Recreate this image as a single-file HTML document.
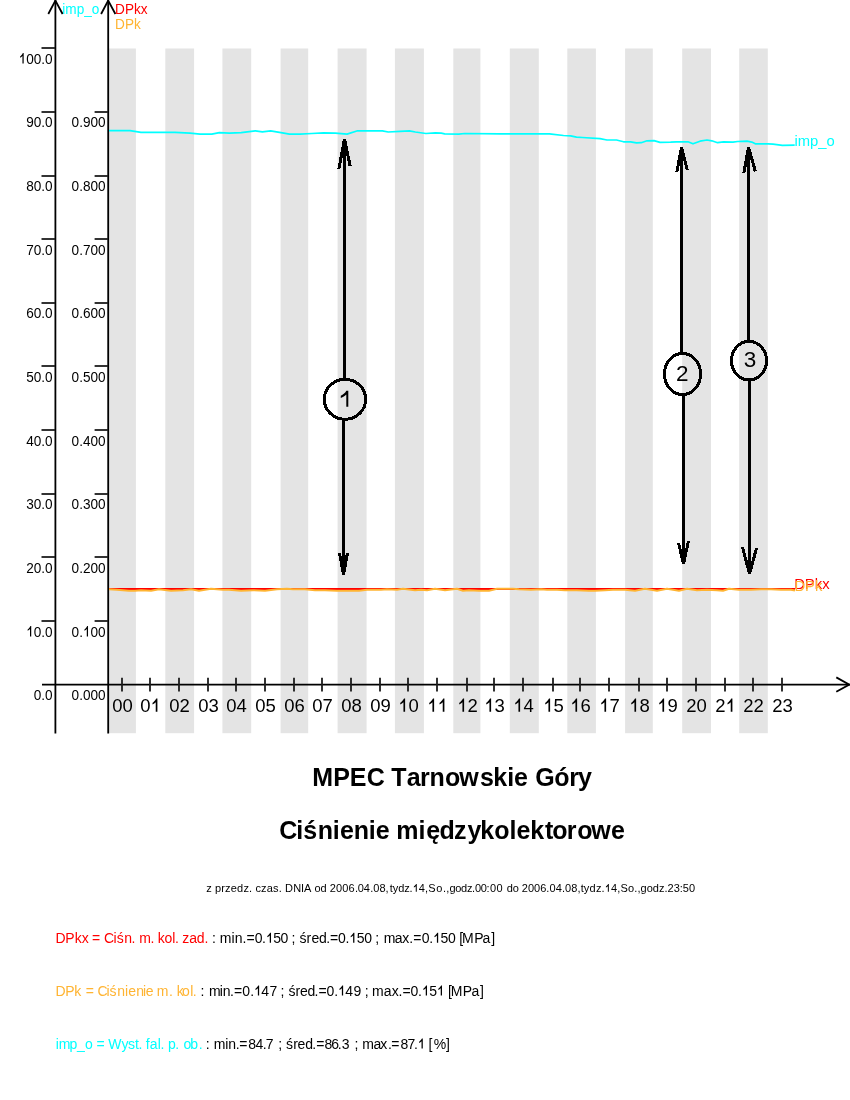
<!DOCTYPE html><html><head><meta charset="utf-8"><style>html,body{margin:0;padding:0;background:#fff;}svg{display:block;will-change:transform;}text{font-family:"Liberation Sans", sans-serif;}</style></head><body>
<svg width="850" height="1100" viewBox="0 0 850 1100">
<rect width="850" height="1100" fill="#fff"/>
<rect x="109" y="48.5" width="26.90" height="684.70" fill="#e4e4e4"/>
<rect x="165.3" y="48.5" width="28.80" height="684.70" fill="#e4e4e4"/>
<rect x="222.4" y="48.5" width="28.80" height="684.70" fill="#e4e4e4"/>
<rect x="280.6" y="48.5" width="27.60" height="684.70" fill="#e4e4e4"/>
<rect x="337.6" y="48.5" width="29.00" height="684.70" fill="#e4e4e4"/>
<rect x="394.9" y="48.5" width="29.00" height="684.70" fill="#e4e4e4"/>
<rect x="453.3" y="48.5" width="27.10" height="684.70" fill="#e4e4e4"/>
<rect x="509.8" y="48.5" width="29.00" height="684.70" fill="#e4e4e4"/>
<rect x="567.3" y="48.5" width="28.60" height="684.70" fill="#e4e4e4"/>
<rect x="625.1" y="48.5" width="27.70" height="684.70" fill="#e4e4e4"/>
<rect x="682.2" y="48.5" width="28.80" height="684.70" fill="#e4e4e4"/>
<rect x="739.2" y="48.5" width="28.60" height="684.70" fill="#e4e4e4"/>
<g stroke="#000" stroke-width="1.8" fill="none">
<line x1="55.4" y1="0" x2="55.4" y2="733.4"/>
<line x1="108.2" y1="0" x2="108.2" y2="733.4"/>
<line x1="42" y1="684.6" x2="850" y2="684.6"/>
<polyline points="48.3,14 55.4,0.6 62.6,14"/>
<polyline points="101.1,14 108.2,0.6 115.4,14"/>
<polyline points="836.3,677.4 849.4,684.6 836.3,691.8"/>
</g>
<g stroke="#1c1c1c" stroke-width="1.8" fill="none">
<line x1="41.5" y1="621" x2="55" y2="621"/>
<line x1="41.5" y1="557" x2="55" y2="557"/>
<line x1="41.5" y1="494" x2="55" y2="494"/>
<line x1="41.5" y1="430" x2="55" y2="430"/>
<line x1="41.5" y1="366" x2="55" y2="366"/>
<line x1="41.5" y1="303" x2="55" y2="303"/>
<line x1="41.5" y1="239" x2="55" y2="239"/>
<line x1="41.5" y1="176" x2="55" y2="176"/>
<line x1="41.5" y1="112" x2="55" y2="112"/>
<line x1="41.5" y1="48" x2="55" y2="48"/>
<line x1="94.6" y1="621" x2="108" y2="621"/>
<line x1="94.6" y1="557" x2="108" y2="557"/>
<line x1="94.6" y1="494" x2="108" y2="494"/>
<line x1="94.6" y1="430" x2="108" y2="430"/>
<line x1="94.6" y1="366" x2="108" y2="366"/>
<line x1="94.6" y1="303" x2="108" y2="303"/>
<line x1="94.6" y1="239" x2="108" y2="239"/>
<line x1="94.6" y1="176" x2="108" y2="176"/>
<line x1="94.6" y1="112" x2="108" y2="112"/>
<line x1="122" y1="677.8" x2="122" y2="691.6"/>
<line x1="150" y1="677.8" x2="150" y2="691.6"/>
<line x1="179" y1="677.8" x2="179" y2="691.6"/>
<line x1="208" y1="677.8" x2="208" y2="691.6"/>
<line x1="236" y1="677.8" x2="236" y2="691.6"/>
<line x1="265" y1="677.8" x2="265" y2="691.6"/>
<line x1="294" y1="677.8" x2="294" y2="691.6"/>
<line x1="322" y1="677.8" x2="322" y2="691.6"/>
<line x1="351" y1="677.8" x2="351" y2="691.6"/>
<line x1="380" y1="677.8" x2="380" y2="691.6"/>
<line x1="408" y1="677.8" x2="408" y2="691.6"/>
<line x1="437" y1="677.8" x2="437" y2="691.6"/>
<line x1="467" y1="677.8" x2="467" y2="691.6"/>
<line x1="494" y1="677.8" x2="494" y2="691.6"/>
<line x1="523" y1="677.8" x2="523" y2="691.6"/>
<line x1="553" y1="677.8" x2="553" y2="691.6"/>
<line x1="580" y1="677.8" x2="580" y2="691.6"/>
<line x1="609" y1="677.8" x2="609" y2="691.6"/>
<line x1="639" y1="677.8" x2="639" y2="691.6"/>
<line x1="667" y1="677.8" x2="667" y2="691.6"/>
<line x1="696" y1="677.8" x2="696" y2="691.6"/>
<line x1="725" y1="677.8" x2="725" y2="691.6"/>
<line x1="753" y1="677.8" x2="753" y2="691.6"/>
<line x1="782" y1="677.8" x2="782" y2="691.6"/>
</g>
<text transform="translate(0,700.20) scale(1,1.08)" x="33.73 41.29 45.07" y="0" font-size="13.6" fill="#000">0.0</text>
<text transform="translate(0,636.54) scale(1,1.08)" x="33.73 41.29 45.07" y="0" font-size="13.6" fill="#000">0.0</text><path transform="translate(26.16,636.54) scale(13.600,-14.688)" d="M0.283,0 L0.373,0 L0.373,0.716 L0.315,0.716 C0.284,0.653 0.231,0.588 0.156,0.521 C0.140,0.507 0.125,0.494 0.109,0.482 L0.109,0.396 C0.176,0.428 0.237,0.470 0.283,0.514 Z" fill="#000"/>
<text transform="translate(0,572.88) scale(1,1.08)" x="26.16 33.73 41.29 45.07" y="0" font-size="13.6" fill="#000">20.0</text>
<text transform="translate(0,509.22) scale(1,1.08)" x="26.16 33.73 41.29 45.07" y="0" font-size="13.6" fill="#000">30.0</text>
<text transform="translate(0,445.56) scale(1,1.08)" x="26.16 33.73 41.29 45.07" y="0" font-size="13.6" fill="#000">40.0</text>
<text transform="translate(0,381.90) scale(1,1.08)" x="26.16 33.73 41.29 45.07" y="0" font-size="13.6" fill="#000">50.0</text>
<text transform="translate(0,318.24) scale(1,1.08)" x="26.16 33.73 41.29 45.07" y="0" font-size="13.6" fill="#000">60.0</text>
<text transform="translate(0,254.58) scale(1,1.08)" x="26.16 33.73 41.29 45.07" y="0" font-size="13.6" fill="#000">70.0</text>
<text transform="translate(0,190.92) scale(1,1.08)" x="26.16 33.73 41.29 45.07" y="0" font-size="13.6" fill="#000">80.0</text>
<text transform="translate(0,127.26) scale(1,1.08)" x="26.16 33.73 41.29 45.07" y="0" font-size="13.6" fill="#000">90.0</text>
<text transform="translate(0,63.60) scale(1,1.08)" x="26.16 33.73 41.29 45.07" y="0" font-size="13.6" fill="#000">00.0</text><path transform="translate(18.60,63.60) scale(13.600,-14.688)" d="M0.283,0 L0.373,0 L0.373,0.716 L0.315,0.716 C0.284,0.653 0.231,0.588 0.156,0.521 C0.140,0.507 0.125,0.494 0.109,0.482 L0.109,0.396 C0.176,0.428 0.237,0.470 0.283,0.514 Z" fill="#000"/>
<text transform="translate(0,700.20) scale(1,1.08)" x="71.60 79.16 82.94 90.50 98.07" y="0" font-size="13.6" fill="#000">0.000</text>
<text transform="translate(0,636.54) scale(1,1.08)" x="71.60 79.16 90.50 98.07" y="0" font-size="13.6" fill="#000">0.00</text><path transform="translate(82.94,636.54) scale(13.600,-14.688)" d="M0.283,0 L0.373,0 L0.373,0.716 L0.315,0.716 C0.284,0.653 0.231,0.588 0.156,0.521 C0.140,0.507 0.125,0.494 0.109,0.482 L0.109,0.396 C0.176,0.428 0.237,0.470 0.283,0.514 Z" fill="#000"/>
<text transform="translate(0,572.88) scale(1,1.08)" x="71.60 79.16 82.94 90.50 98.07" y="0" font-size="13.6" fill="#000">0.200</text>
<text transform="translate(0,509.22) scale(1,1.08)" x="71.60 79.16 82.94 90.50 98.07" y="0" font-size="13.6" fill="#000">0.300</text>
<text transform="translate(0,445.56) scale(1,1.08)" x="71.60 79.16 82.94 90.50 98.07" y="0" font-size="13.6" fill="#000">0.400</text>
<text transform="translate(0,381.90) scale(1,1.08)" x="71.60 79.16 82.94 90.50 98.07" y="0" font-size="13.6" fill="#000">0.500</text>
<text transform="translate(0,318.24) scale(1,1.08)" x="71.60 79.16 82.94 90.50 98.07" y="0" font-size="13.6" fill="#000">0.600</text>
<text transform="translate(0,254.58) scale(1,1.08)" x="71.60 79.16 82.94 90.50 98.07" y="0" font-size="13.6" fill="#000">0.700</text>
<text transform="translate(0,190.92) scale(1,1.08)" x="71.60 79.16 82.94 90.50 98.07" y="0" font-size="13.6" fill="#000">0.800</text>
<text transform="translate(0,127.26) scale(1,1.08)" x="71.60 79.16 82.94 90.50 98.07" y="0" font-size="13.6" fill="#000">0.900</text>
<text x="112.21 122.50" y="711.80" font-size="18.5" fill="#000">00</text>
<text x="140.21" y="711.80" font-size="18.5" fill="#000">0</text><path transform="translate(150.50,711.80) scale(18.500,-18.500)" d="M0.283,0 L0.373,0 L0.373,0.716 L0.315,0.716 C0.284,0.653 0.231,0.588 0.156,0.521 C0.140,0.507 0.125,0.494 0.109,0.482 L0.109,0.396 C0.176,0.428 0.237,0.470 0.283,0.514 Z" fill="#000"/>
<text x="169.21 179.50" y="711.80" font-size="18.5" fill="#000">02</text>
<text x="198.21 208.50" y="711.80" font-size="18.5" fill="#000">03</text>
<text x="226.21 236.50" y="711.80" font-size="18.5" fill="#000">04</text>
<text x="255.21 265.50" y="711.80" font-size="18.5" fill="#000">05</text>
<text x="284.21 294.50" y="711.80" font-size="18.5" fill="#000">06</text>
<text x="312.21 322.50" y="711.80" font-size="18.5" fill="#000">07</text>
<text x="341.21 351.50" y="711.80" font-size="18.5" fill="#000">08</text>
<text x="370.21 380.50" y="711.80" font-size="18.5" fill="#000">09</text>
<text x="408.50" y="711.80" font-size="18.5" fill="#000">0</text><path transform="translate(398.21,711.80) scale(18.500,-18.500)" d="M0.283,0 L0.373,0 L0.373,0.716 L0.315,0.716 C0.284,0.653 0.231,0.588 0.156,0.521 C0.140,0.507 0.125,0.494 0.109,0.482 L0.109,0.396 C0.176,0.428 0.237,0.470 0.283,0.514 Z" fill="#000"/>
<path transform="translate(427.21,711.80) scale(18.500,-18.500)" d="M0.283,0 L0.373,0 L0.373,0.716 L0.315,0.716 C0.284,0.653 0.231,0.588 0.156,0.521 C0.140,0.507 0.125,0.494 0.109,0.482 L0.109,0.396 C0.176,0.428 0.237,0.470 0.283,0.514 Z" fill="#000"/><path transform="translate(437.50,711.80) scale(18.500,-18.500)" d="M0.283,0 L0.373,0 L0.373,0.716 L0.315,0.716 C0.284,0.653 0.231,0.588 0.156,0.521 C0.140,0.507 0.125,0.494 0.109,0.482 L0.109,0.396 C0.176,0.428 0.237,0.470 0.283,0.514 Z" fill="#000"/>
<text x="467.50" y="711.80" font-size="18.5" fill="#000">2</text><path transform="translate(457.21,711.80) scale(18.500,-18.500)" d="M0.283,0 L0.373,0 L0.373,0.716 L0.315,0.716 C0.284,0.653 0.231,0.588 0.156,0.521 C0.140,0.507 0.125,0.494 0.109,0.482 L0.109,0.396 C0.176,0.428 0.237,0.470 0.283,0.514 Z" fill="#000"/>
<text x="494.50" y="711.80" font-size="18.5" fill="#000">3</text><path transform="translate(484.21,711.80) scale(18.500,-18.500)" d="M0.283,0 L0.373,0 L0.373,0.716 L0.315,0.716 C0.284,0.653 0.231,0.588 0.156,0.521 C0.140,0.507 0.125,0.494 0.109,0.482 L0.109,0.396 C0.176,0.428 0.237,0.470 0.283,0.514 Z" fill="#000"/>
<text x="523.50" y="711.80" font-size="18.5" fill="#000">4</text><path transform="translate(513.21,711.80) scale(18.500,-18.500)" d="M0.283,0 L0.373,0 L0.373,0.716 L0.315,0.716 C0.284,0.653 0.231,0.588 0.156,0.521 C0.140,0.507 0.125,0.494 0.109,0.482 L0.109,0.396 C0.176,0.428 0.237,0.470 0.283,0.514 Z" fill="#000"/>
<text x="553.50" y="711.80" font-size="18.5" fill="#000">5</text><path transform="translate(543.21,711.80) scale(18.500,-18.500)" d="M0.283,0 L0.373,0 L0.373,0.716 L0.315,0.716 C0.284,0.653 0.231,0.588 0.156,0.521 C0.140,0.507 0.125,0.494 0.109,0.482 L0.109,0.396 C0.176,0.428 0.237,0.470 0.283,0.514 Z" fill="#000"/>
<text x="580.50" y="711.80" font-size="18.5" fill="#000">6</text><path transform="translate(570.21,711.80) scale(18.500,-18.500)" d="M0.283,0 L0.373,0 L0.373,0.716 L0.315,0.716 C0.284,0.653 0.231,0.588 0.156,0.521 C0.140,0.507 0.125,0.494 0.109,0.482 L0.109,0.396 C0.176,0.428 0.237,0.470 0.283,0.514 Z" fill="#000"/>
<text x="609.50" y="711.80" font-size="18.5" fill="#000">7</text><path transform="translate(599.21,711.80) scale(18.500,-18.500)" d="M0.283,0 L0.373,0 L0.373,0.716 L0.315,0.716 C0.284,0.653 0.231,0.588 0.156,0.521 C0.140,0.507 0.125,0.494 0.109,0.482 L0.109,0.396 C0.176,0.428 0.237,0.470 0.283,0.514 Z" fill="#000"/>
<text x="639.50" y="711.80" font-size="18.5" fill="#000">8</text><path transform="translate(629.21,711.80) scale(18.500,-18.500)" d="M0.283,0 L0.373,0 L0.373,0.716 L0.315,0.716 C0.284,0.653 0.231,0.588 0.156,0.521 C0.140,0.507 0.125,0.494 0.109,0.482 L0.109,0.396 C0.176,0.428 0.237,0.470 0.283,0.514 Z" fill="#000"/>
<text x="667.50" y="711.80" font-size="18.5" fill="#000">9</text><path transform="translate(657.21,711.80) scale(18.500,-18.500)" d="M0.283,0 L0.373,0 L0.373,0.716 L0.315,0.716 C0.284,0.653 0.231,0.588 0.156,0.521 C0.140,0.507 0.125,0.494 0.109,0.482 L0.109,0.396 C0.176,0.428 0.237,0.470 0.283,0.514 Z" fill="#000"/>
<text x="686.21 696.50" y="711.80" font-size="18.5" fill="#000">20</text>
<text x="715.21" y="711.80" font-size="18.5" fill="#000">2</text><path transform="translate(725.50,711.80) scale(18.500,-18.500)" d="M0.283,0 L0.373,0 L0.373,0.716 L0.315,0.716 C0.284,0.653 0.231,0.588 0.156,0.521 C0.140,0.507 0.125,0.494 0.109,0.482 L0.109,0.396 C0.176,0.428 0.237,0.470 0.283,0.514 Z" fill="#000"/>
<text x="743.21 753.50" y="711.80" font-size="18.5" fill="#000">22</text>
<text x="772.21 782.50" y="711.80" font-size="18.5" fill="#000">23</text>
<text transform="translate(62.29,13.6) scale(1,1.08)" x="0" y="0" font-size="13.6" fill="#00ffff">imp_o</text>
<text transform="translate(115.08,13.6) scale(1,1.08)" x="0" y="0" font-size="13.6" fill="#ff0000">DPkx</text>
<text transform="translate(115.08,28.6) scale(1,1.08)" x="0" y="0" font-size="13.6" fill="#ffb432">DPk</text>
<polyline points="109,130.7 130,130.7 141,132.4 175,132.4 190,133.2 200,134.1 211.8,134.1 219.4,132.6 229.4,133.2 241.2,132.6 255.3,130.8 262.4,131.8 270.6,130.8 282.4,132.8 289.4,134.1 300,134.1 311.8,133.5 323.5,132.8 335.3,133.2 347,134.1 357.6,130.8 370.6,130.8 382.4,130.8 388.2,132 400,131.4 409.4,130.8 415.3,132 425.9,133.5 435.3,132.9 441.2,133.2 444.7,133.8 458.8,134.1 464.7,133.5 500,133.8 549.4,133.8 563.5,135.5 570.6,135.9 576.5,137.1 582.4,137.5 600,138.7 607,140 616.5,140 623.5,141.8 630.6,141.8 636.5,142.9 641.2,142.7 647,140.8 654,140.6 660,142.4 670.6,142.1 676.5,141.8 688,141.8 693,143.8 700,141.2 707,140 711.8,140.8 717.6,142.7 723.5,141.8 733,142.1 737.6,141.5 747,141.2 751.8,142.1 755.3,143.8 768.2,143.8 773,144.1 782.4,145.3 794.7,145.2" fill="none" stroke="#00ffff" stroke-width="1.7" stroke-linejoin="round"/>
<text x="794.41" y="145.5" font-size="14.8" fill="#00ffff">imp_o</text>
<line x1="109" y1="589" x2="795" y2="589" stroke="#ff0000" stroke-width="2"/>
<text x="794.19" y="588.8" font-size="14.8" fill="#ff0000">DPkx</text>
<polyline points="109,589.2 117,589.7 129,590.7 135,590.7 141,590.2 151,590.7 159,589.2 171,590.7 183,590.2 191,589.2 199,590.7 211,588.7 217,589.2 223,589.7 229,589.7 241,590.7 253,590.2 265,590.7 277,589.2 287,588.7 293,589.2 305,589.2 315,590.2 325,590.2 337,590.7 347,590.7 359,590.7 367,589.7 373,589.7 381,589.7 387,589.2 397,589.7 403,588.7 415,590.2 421,589.7 427,590.2 435,588.7 445,590.2 457,588.7 463,590.7 469,590.2 479,590.7 489,590.7 497,588.7 507,588.7 513,588.7 519,589.2 531,589.7 541,589.2 547,589.7 557,589.7 565,590.2 577,590.2 589,590.7 595,590.7 605,590.2 613,589.7 625,589.7 635,590.7 645,588.7 657,590.7 667,588.7 679,590.7 687,588.7 697,590.2 707,589.7 717,590.2 723,590.7 729,588.7 739,589.7 751,589.7 761,589.2 771,589.2 781,589.7 791,589.7 795,590.5" fill="none" stroke="#ffb432" stroke-width="2" stroke-linejoin="round"/>
<text x="794.39" y="590.5" font-size="14.8" fill="#ffb432">DPk</text>
<g stroke="#000" stroke-width="3" fill="none" shape-rendering="crispEdges" stroke-linecap="butt"><line x1="344.5" y1="139" x2="344.5" y2="380.3"/><line x1="343.5" y1="418.3" x2="343.5" y2="575"/><line x1="344.5" y1="139" x2="338.8" y2="169.2"/><line x1="344.5" y1="139" x2="350.2" y2="166.2"/><line x1="343.5" y1="575" x2="339.5" y2="553"/><line x1="343.5" y1="575" x2="347.5" y2="553"/><ellipse cx="345" cy="399.3" rx="20.7" ry="20"/></g>
<g stroke="#000" stroke-width="3" fill="none" shape-rendering="crispEdges" stroke-linecap="butt"><line x1="681.5" y1="147.1" x2="681.5" y2="354.45"/><line x1="683.5" y1="393.55" x2="683.5" y2="563.8"/><line x1="681.5" y1="147.1" x2="676.8" y2="172.3"/><line x1="681.5" y1="147.1" x2="687.3" y2="170.3"/><line x1="683.5" y1="563.8" x2="678.5" y2="543"/><line x1="683.5" y1="563.8" x2="688.5" y2="541"/><ellipse cx="682.5" cy="374" rx="18.1" ry="20.55"/></g>
<g stroke="#000" stroke-width="3" fill="none" shape-rendering="crispEdges" stroke-linecap="butt"><line x1="748.5" y1="147" x2="748.5" y2="342.4"/><line x1="749.5" y1="379.0" x2="749.5" y2="573.9"/><line x1="748.5" y1="147" x2="743.8" y2="173.3"/><line x1="748.5" y1="147" x2="755.3" y2="171.3"/><line x1="749.5" y1="573.9" x2="742.5" y2="547.2"/><line x1="749.5" y1="573.9" x2="756.5" y2="548.2"/><ellipse cx="749" cy="360.7" rx="17.6" ry="19.3"/></g>
<path d="M346.30,390.80 L348.30,390.80 L348.30,406.70 L346.30,406.70 L346.30,394.40 C344.70,396.00 342.00,397.40 340.80,398.00 L340.80,395.80 C343.00,394.80 345.50,392.60 346.30,390.80 Z" fill="#000"/>
<text x="675.89" y="380.6" font-size="22.5" fill="#000">2</text>
<text x="743.71" y="366.5" font-size="22.5" fill="#000">3</text>
<text x="312.13 333.23 349.73 366.87 384.53 391.32 406.77 419.95 429.45 444.92 459.37 479.92 493.15 507.25 514.02 528.13 535.17 554.22 569.35 577.90" y="785.5" font-size="25" font-weight="bold" fill="#000" xml:space="preserve">MPEC Tarnowskie Góry</text>
<text x="279.17 296.35 303.32 317.65 332.65 339.92 353.85 368.85 375.72 389.41 396.25 418.45 426.32 439.47 454.10 467.40 480.35 494.32 509.55 516.42 530.35 544.89 552.32 566.85 577.32 591.37 611.12" y="838.5" font-size="25" font-weight="bold" fill="#000" xml:space="preserve">Ciśnienie międzykolektorowe</text>
<text x="206.35 211.84 214.89 221.23 225.03 230.72 237.06 243.40 249.10 252.27 255.43 261.11 266.79 273.11 278.79 281.94 285.10 293.20 301.08 304.12 311.40 314.44 320.56 326.69 329.75 336.03 342.32 348.61 354.90 357.84 363.75 370.20 373.26 379.38 385.51 389.83 392.83 398.22 404.21 409.60 418.78 424.91 428.30 436.26 442.90 446.22 449.54 455.33 461.12 466.91 472.12 475.01 480.80 486.60 489.93 496.62 503.30 506.64 512.72 518.81 521.85 527.96 534.07 540.18 546.30 549.42 555.66 561.90 565.02 571.27 577.51 580.68 583.85 589.55 595.89 601.60 611.00 617.27 620.40 627.95 634.25 637.39 640.54 646.68 652.81 658.95 664.47 667.53 673.67 679.81 682.87 689.01" y="891.8" font-size="11" fill="#000" xml:space="preserve">z przedz. czas. DNIA od 2006.04.08,tydz.4,So.,godz.00:00 do 2006.04.08,tydz.4,So.,godz.23:50</text><path transform="translate(412.66,891.80) scale(11.000,-11.000)" d="M0.283,0 L0.373,0 L0.373,0.716 L0.315,0.716 C0.284,0.653 0.231,0.588 0.156,0.521 C0.140,0.507 0.125,0.494 0.109,0.482 L0.109,0.396 C0.176,0.428 0.237,0.470 0.283,0.514 Z" fill="#000"/><path transform="translate(604.73,891.80) scale(11.000,-11.000)" d="M0.283,0 L0.373,0 L0.373,0.716 L0.315,0.716 C0.284,0.653 0.231,0.588 0.156,0.521 C0.140,0.507 0.125,0.494 0.109,0.482 L0.109,0.396 C0.176,0.428 0.237,0.470 0.283,0.514 Z" fill="#000"/>
<text x="55.55 65.35 74.66 81.64 88.25 91.92 100.10 103.99 113.56 116.71 124.17 131.52 135.40 139.27 150.42 154.14 157.86 164.61 172.36 175.12 178.68 182.23 189.13 196.79 204.46" y="942.8" font-size="14" fill="#ff0000" xml:space="preserve">DPkx = Ciśn. m. kol. zad.</text><text x="208.29 212.12 215.95 219.77 231.55 234.70 242.56 246.49 254.75 262.11 273.15 280.51 287.87 291.54 295.53 299.51 306.47 311.51 319.01 326.32 330.07 337.95 345.43 356.65 364.13 371.61 375.34 379.61 383.87 394.83 402.14 409.31 413.29 421.65 429.18 440.48 448.01 455.54 459.30 462.05 474.15 482.61 491.21" y="942.8" font-size="14" fill="#000" xml:space="preserve"> : min.=0.50 ; śred.=0.50 ; max.=0.50 [MPa]</text><path transform="translate(265.79,942.80) scale(14.000,-14.000)" d="M0.283,0 L0.373,0 L0.373,0.716 L0.315,0.716 C0.284,0.653 0.231,0.588 0.156,0.521 C0.140,0.507 0.125,0.494 0.109,0.482 L0.109,0.396 C0.176,0.428 0.237,0.470 0.283,0.514 Z" fill="#000"/><path transform="translate(349.17,942.80) scale(14.000,-14.000)" d="M0.283,0 L0.373,0 L0.373,0.716 L0.315,0.716 C0.284,0.653 0.231,0.588 0.156,0.521 C0.140,0.507 0.125,0.494 0.109,0.482 L0.109,0.396 C0.176,0.428 0.237,0.470 0.283,0.514 Z" fill="#000"/><path transform="translate(432.95,942.80) scale(14.000,-14.000)" d="M0.283,0 L0.373,0 L0.373,0.716 L0.315,0.716 C0.284,0.653 0.231,0.588 0.156,0.521 C0.140,0.507 0.125,0.494 0.109,0.482 L0.109,0.396 C0.176,0.428 0.237,0.470 0.283,0.514 Z" fill="#000"/>
<text x="55.45 65.25 74.26 81.69 85.82 93.73 97.49 106.46 109.61 117.27 124.96 128.21 136.17 143.06 145.81 153.05 156.67 168.92 172.79 176.66 182.11 190.16 192.72" y="995.5" font-size="14" fill="#ffb432" xml:space="preserve">DPk = Ciśnienie m. kol.</text><text x="196.62 200.52 204.80 209.07 219.85 222.72 229.92 233.93 242.35 250.22 261.28 269.38 276.82 280.54 284.48 288.41 295.57 300.01 307.61 314.62 318.47 326.55 334.22 345.28 353.44 360.91 364.64 368.31 371.97 383.77 391.64 398.59 402.44 410.55 418.04 429.28 444.26 448.00 450.85 462.85 471.41 480.11" y="995.5" font-size="14" fill="#000" xml:space="preserve"> : min.=0.47 ; śred.=0.49 ; max.=0.5 [MPa]</text><path transform="translate(253.91,995.50) scale(14.000,-14.000)" d="M0.283,0 L0.373,0 L0.373,0.716 L0.315,0.716 C0.284,0.653 0.231,0.588 0.156,0.521 C0.140,0.507 0.125,0.494 0.109,0.482 L0.109,0.396 C0.176,0.428 0.237,0.470 0.283,0.514 Z" fill="#000"/><path transform="translate(337.91,995.50) scale(14.000,-14.000)" d="M0.283,0 L0.373,0 L0.373,0.716 L0.315,0.716 C0.284,0.653 0.231,0.588 0.156,0.521 C0.140,0.507 0.125,0.494 0.109,0.482 L0.109,0.396 C0.176,0.428 0.237,0.470 0.283,0.514 Z" fill="#000"/><path transform="translate(421.79,995.50) scale(14.000,-14.000)" d="M0.283,0 L0.373,0 L0.373,0.716 L0.315,0.716 C0.284,0.653 0.231,0.588 0.156,0.521 C0.140,0.507 0.125,0.494 0.109,0.482 L0.109,0.396 C0.176,0.428 0.237,0.470 0.283,0.514 Z" fill="#000"/><path transform="translate(436.77,995.50) scale(14.000,-14.000)" d="M0.283,0 L0.373,0 L0.373,0.716 L0.315,0.716 C0.284,0.653 0.231,0.588 0.156,0.521 C0.140,0.507 0.125,0.494 0.109,0.482 L0.109,0.396 C0.176,0.428 0.237,0.470 0.283,0.514 Z" fill="#000"/>
<text x="55.66 58.67 69.60 77.11 84.91 92.72 96.62 104.49 108.24 121.47 128.11 135.09 138.62 142.21 145.80 149.81 157.86 160.52 164.21 167.90 175.22 179.37 183.51 190.20 198.72" y="1048.5" font-size="14" fill="#00ffff" xml:space="preserve">imp_o = Wyst. fal. p. ob.</text><text x="202.27 205.82 209.80 213.77 225.17 228.21 235.82 239.32 248.19 255.58 262.82 265.78 274.02 278.14 282.13 286.11 293.17 297.61 305.31 312.22 316.15 324.39 331.19 337.72 341.67 350.19 354.44 358.36 362.27 373.61 380.14 387.92 391.32 400.39 407.38 413.92 424.86 428.50 433.80 446.01" y="1048.5" font-size="14" fill="#000" xml:space="preserve"> : min.=84.7 ; śred.=86.3 ; max.=87. [%]</text><path transform="translate(417.57,1048.50) scale(14.000,-14.000)" d="M0.283,0 L0.373,0 L0.373,0.716 L0.315,0.716 C0.284,0.653 0.231,0.588 0.156,0.521 C0.140,0.507 0.125,0.494 0.109,0.482 L0.109,0.396 C0.176,0.428 0.237,0.470 0.283,0.514 Z" fill="#000"/>
</svg></body></html>
